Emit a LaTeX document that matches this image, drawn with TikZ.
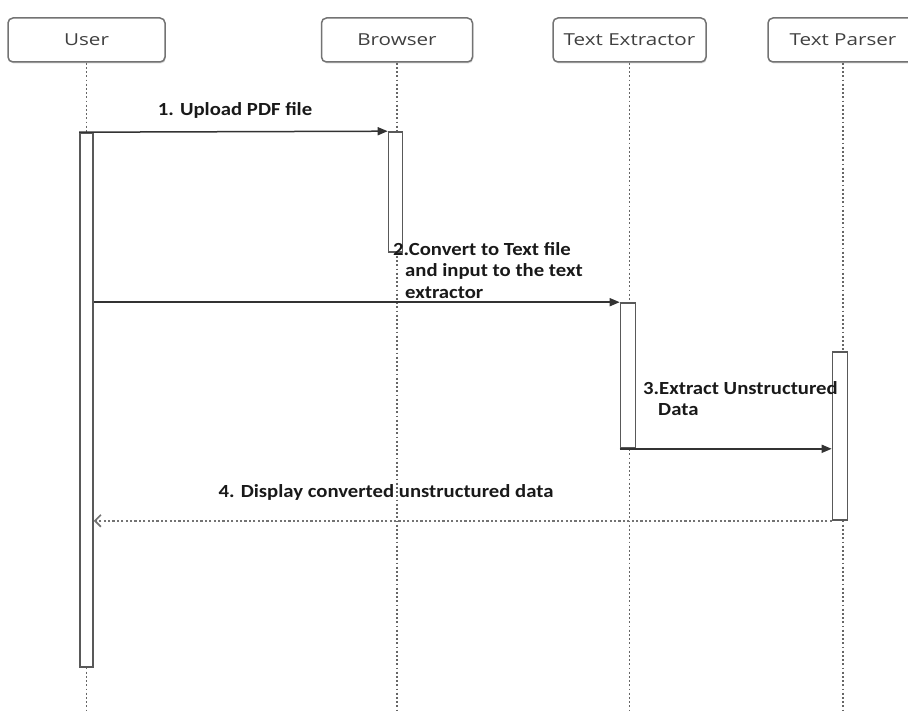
\documentclass[tikz,border=0pt]{standalone}
\usepackage{fontspec}
\setmainfont{Carlito}
\newfontfamily\headfont[FakeStretch=1.25]{Open Sans}
\newfontfamily\lblfont[FakeStretch=1.12]{Carlito}
\usetikzlibrary{arrows.meta,shadows}
\begin{document}
\begin{tikzpicture}[x=1pt,y=-1pt,
  head/.style={draw=black!55, rounded corners=5pt, line width=1.5pt, fill=white,
    minimum height=44pt, inner sep=0pt, text=black!75,
    font=\headfont\fontsize{16.5}{18}\selectfont,
    drop shadow={shadow xshift=0.8pt, shadow yshift=-1.5pt, fill=black!30}},
  lifeline/.style={draw=black!60, line width=1.8pt, dash pattern=on 1.8pt off 2.4pt},
  actbar/.style={draw=black!65, line width=1.6pt, fill=white, minimum width=13pt, inner sep=0pt},
  msg/.style={draw=black!80, line width=1.5pt, -{Triangle[length=10pt,width=8pt]}},
  retmsg/.style={draw=black!55, line width=1.6pt, dash pattern=on 2.2pt off 2.2pt, -{Straight Barb[length=6pt,width=12pt]}},
  lbl/.style={font=\lblfont\bfseries\fontsize{18.5}{21.5}\selectfont, text=black!90, inner sep=0pt, align=left}
]
\useasboundingbox (0,0) rectangle (908,711);
% heads
\node[head, minimum width=157pt] (user) at (86.5,40) {User};
\node[head, minimum width=151pt] (browser) at (397,40) {Browser};
\node[head, minimum width=153pt] (extr) at (629.5,40) {Text Extractor};
\node[head, minimum width=150pt] (parser) at (843,40) {Text Parser};
% lifeline ends
\coordinate (userend) at (86.5,711);
\coordinate (browserend) at (397,711);
\coordinate (extrend) at (629.5,711);
\coordinate (parserend) at (843,711);
\draw[lifeline] (user.south) -- (userend);
\draw[lifeline] (browser.south) -- (browserend);
\draw[lifeline] (extr.south) -- (extrend);
\draw[lifeline] (parser.south) -- (parserend);
% activation bars
\node[actbar, minimum height=534pt] (ub) at (86.5,400) {};
\node[actbar, minimum height=120pt, minimum width=14pt] (bb) at (395.5,192) {};
\node[actbar, minimum height=145pt, minimum width=15pt] (eb) at (628,375.5) {};
\node[actbar, minimum height=168pt, minimum width=15pt] (pb) at (840,436) {};
% messages
\draw[msg] (ub.north west) -- (bb.north west);
\draw[msg] (ub.east |- eb.north) -- (eb.north west);
\draw[msg] (eb.south west) -- (pb.west |- eb.south);
\draw[retmsg] (pb.south west) -- (ub.east |- pb.south);
% labels
\node[lbl] (l1) at (235,110) {1. Upload PDF file};
\node[lbl, anchor=north west] (l2) at (393,242) {2.Convert to Text file\\\hspace*{12pt}and input to the text\\\hspace*{12pt}extractor};
\node[lbl, anchor=north west] (l3) at (643,381) {3.Extract Unstructured\\\hspace*{15pt}Data};
\node[lbl] (l4) at (386,492) {4. Display converted unstructured data};
\end{tikzpicture}
\end{document}
